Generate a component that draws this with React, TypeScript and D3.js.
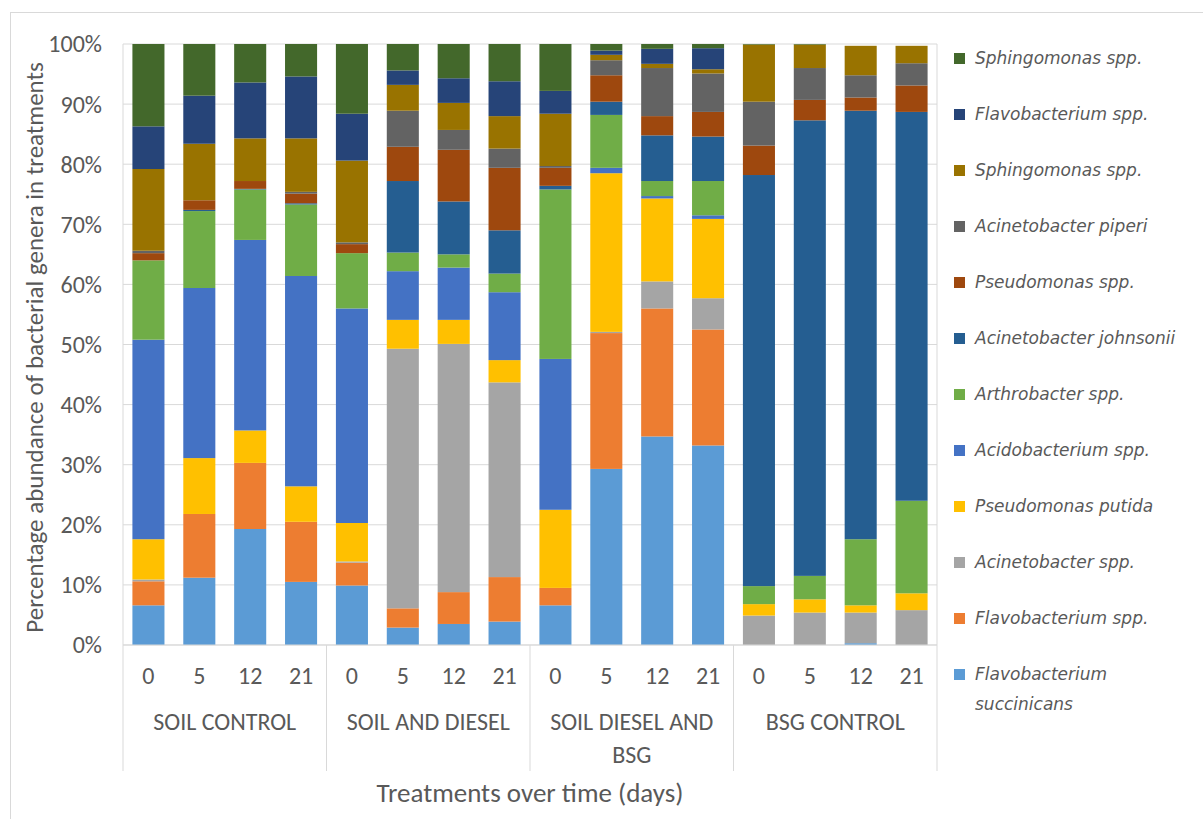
import React from "react";
import * as d3 from "d3";

const groups = ["SOIL CONTROL", "SOIL AND DIESEL", "SOIL DIESEL AND BSG", "BSG CONTROL"];
const days = ["0", "5", "12", "21"];

// series listed bottom -> top of the stack
const seriesNames = [
  "Flavobacterium succinicans",
  "Flavobacterium spp.",
  "Acinetobacter spp.",
  "Pseudomonas putida",
  "Acidobacterium spp.",
  "Arthrobacter spp.",
  "Acinetobacter johnsonii",
  "Pseudomonas spp.",
  "Acinetobacter piperi",
  "Sphingomonas spp.",
  "Flavobacterium spp.",
  "Sphingomonas spp.",
];
const seriesColors = [
  "#5B9BD5", "#ED7D31", "#A5A5A5", "#FFC000", "#4472C4", "#70AD47",
  "#255E91", "#9E480E", "#636363", "#997300", "#264478", "#43682B",
];

// values per bar: SC0,SC5,SC12,SC21, SD0..SD21, SDB0..SDB21, BSG0..BSG21
const flavoSuccinicans = [6.6, 11.2, 19.3, 10.5, 9.9, 2.9, 3.5, 3.9, 6.6, 29.3, 34.7, 33.2, 0, 0, 0.3, 0];
const flavoSpp = [4.0, 10.6, 11.0, 10.0, 3.8, 3.2, 5.3, 7.4, 2.9, 22.6, 21.3, 19.3, 0, 0, 0, 0];
const acinetoSpp = [0.3, 0, 0, 0, 0.2, 43.2, 41.3, 32.4, 0, 0.2, 4.5, 5.2, 4.9, 5.4, 5.1, 5.8];
const pseudoPutida = [6.7, 9.3, 5.4, 5.9, 6.4, 4.8, 4.0, 3.7, 13.0, 26.4, 13.8, 13.2, 1.9, 2.2, 1.2, 2.8];
const acidobacterium = [33.2, 28.3, 31.7, 35.0, 35.7, 8.1, 8.7, 11.3, 25.1, 0.9, 0.4, 0.6, 0, 0, 0, 0];
const arthrobacter = [13.2, 12.8, 8.4, 11.9, 9.2, 3.1, 2.2, 3.1, 28.2, 8.8, 2.5, 5.7, 3.0, 3.9, 11.0, 15.4];
const acinetoJohnsonii = [0, 0.2, 0.1, 0.2, 0, 11.9, 8.8, 7.2, 0.6, 2.2, 7.6, 7.4, 68.4, 75.8, 71.3, 64.7];
const pseudoSpp = [1.2, 1.6, 1.3, 1.6, 1.5, 5.7, 8.6, 10.4, 3.0, 4.4, 3.2, 4.1, 4.9, 3.4, 2.2, 4.4];
const acinetoPiperi = [0.4, 0, 0, 0.3, 0.3, 6.0, 3.3, 3.2, 0.3, 2.5, 8.0, 6.4, 7.3, 5.3, 3.7, 3.7];
const sphingoSpp1 = [13.6, 9.4, 7.1, 8.9, 13.6, 4.3, 4.5, 5.4, 8.7, 0.9, 0.7, 0.7, 9.5, 3.9, 4.9, 2.9];
const flavoSpp2 = [7.1, 8.0, 9.3, 10.3, 7.8, 2.4, 4.1, 5.8, 3.8, 0.7, 2.5, 3.5, 0, 0, 0, 0];
const sphingoSpp2 = [13.7, 8.6, 6.4, 5.4, 11.6, 4.4, 5.7, 6.2, 7.8, 1.1, 0.8, 0.7, 0.1, 0.1, 0, 0];

const seriesValues = [
  flavoSuccinicans, flavoSpp, acinetoSpp, pseudoPutida, acidobacterium, arthrobacter,
  acinetoJohnsonii, pseudoSpp, acinetoPiperi, sphingoSpp1, flavoSpp2, sphingoSpp2,
];

const yTicks = [0, 10, 20, 30, 40, 50, 60, 70, 80, 90, 100];

const W = 1203;
const H = 819;
const plot = { left: 123, right: 937, top: 44, bottom: 645 };
const axisFont = "Calibri, Carlito, 'Noto Sans', sans-serif";
const legendFont = "'DejaVu Sans', Verdana, sans-serif";

export default function App() {
  const bars = groups.flatMap((g, gi) => days.map((d, di) => ({ key: `${gi}-${di}`, group: g, day: d, idx: gi * 4 + di })));
  const x = d3.scaleBand<number>().domain(bars.map((b) => b.idx)).range([plot.left, plot.right]).paddingInner(0.37).paddingOuter(0.185);
  const y = d3.scaleLinear().domain([0, 100]).range([plot.bottom, plot.top]);

  const table = bars.map((b) => {
    const row: Record<string, number> = { idx: b.idx };
    seriesValues.forEach((vals, si) => (row["s" + si] = vals[b.idx]));
    return row;
  });
  const stack = d3.stack<Record<string, number>>().keys(seriesNames.map((_, i) => "s" + i));
  const stacked = stack(table);

  const groupW = (plot.right - plot.left) / groups.length;

  return (
    <svg width={W} height={H} style={{ display: "block", position: "absolute", left: 0, top: 0 }}>
      <rect x={0} y={0} width={W} height={H} fill="#fff" />
      <rect x={10.5} y={12.5} width={W} height={H + 10} fill="none" stroke="#D9D9D9" />
      {/* gridlines */}
      {yTicks.map((t) => (
        <line key={t} x1={plot.left} x2={plot.right} y1={y(t)} y2={y(t)} stroke="#D9D9D9" strokeWidth={1} />
      ))}
      {/* y tick labels */}
      {yTicks.map((t) => (
        <text key={"l" + t} x={102} y={y(t)} dy="0.35em" textAnchor="end" fill="#595959" fontFamily={axisFont} fontSize={24}>
          {t}%
        </text>
      ))}
      {/* bars */}
      {stacked.map((layer, si) => (
        <g key={si} fill={seriesColors[si]}>
          {layer.map((seg, bi) => {
            const h = y(seg[0]) - y(seg[1]);
            if (h <= 0) return null;
            return <rect key={bi} x={x(bi)} y={y(seg[1])} width={x.bandwidth()} height={h} />;
          })}
        </g>
      ))}
      {/* category axis lines */}
      <line x1={plot.left} x2={plot.right} y1={plot.bottom} y2={plot.bottom} stroke="#D9D9D9" />
      {d3.range(groups.length + 1).map((i) => {
        const xx = plot.left + i * groupW;
        const top = i === 0 || i === groups.length ? plot.top : plot.bottom;
        return <line key={"sep" + i} x1={xx} x2={xx} y1={top} y2={771} stroke="#D9D9D9" />;
      })}
      {/* day labels */}
      {bars.map((b) => (
        <text key={"d" + b.key} x={(x(b.idx) as number) + x.bandwidth() / 2} y={684} textAnchor="middle" fill="#595959" fontFamily={axisFont} fontSize={24}>
          {b.day}
        </text>
      ))}
      {/* group labels */}
      {groups.map((g, gi) => {
        const cx = plot.left + (gi + 0.5) * groupW;
        const lines = g === "SOIL DIESEL AND BSG" ? ["SOIL DIESEL AND", "BSG"] : [g];
        return (
          <text key={"g" + gi} x={cx} y={730} textAnchor="middle" fill="#595959" fontFamily={axisFont} fontSize={24}>
            {lines.map((ln, li) => (
              <tspan key={li} x={cx} dy={li === 0 ? 0 : 33}>
                {ln}
              </tspan>
            ))}
          </text>
        );
      })}
      {/* x axis title */}
      <text x={(plot.left + plot.right) / 2} y={802} textAnchor="middle" fill="#595959" fontFamily={axisFont} fontSize={27}>
        Treatments over time (days)
      </text>
      {/* y axis title */}
      <text transform={`translate(43, ${(plot.top + plot.bottom) / 2 + 3}) rotate(-90)`} textAnchor="middle" fill="#595959" fontFamily={axisFont} fontSize={25}>
        Percentage abundance of bacterial genera in treatments
      </text>
      {/* legend (top to bottom = reversed series order) */}
      {seriesNames
        .map((n, i) => ({ n, i }))
        .reverse()
        .map((s, k) => {
          const cy = 58 + k * 56;
          const lines = s.n === "Flavobacterium succinicans" ? ["Flavobacterium", "succinicans"] : [s.n];
          return (
            <g key={"lg" + k}>
              <rect x={954} y={cy - 5} width={11} height={11} fill={seriesColors[s.i]} />
              <text x={975} y={cy} fill="#595959" fontFamily={legendFont} fontStyle="italic" fontSize={17}>
                {lines.map((ln, li) => (
                  <tspan key={li} x={975} dy={li === 0 ? "0.35em" : 30}>
                    {ln}
                  </tspan>
                ))}
              </text>
            </g>
          );
        })}
    </svg>
  );
}
